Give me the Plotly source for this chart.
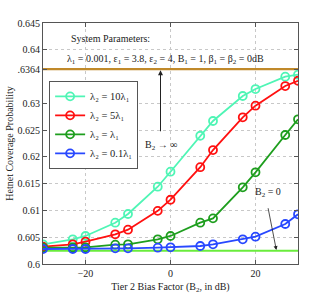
import plotly.graph_objects as go

# Tier 2 bias factor in dB (10*log10 of 0.001 ... 1000)
bias_db = [-30, -23.0, -20, -13.0, -10, -3.0, 0, 7.0, 10, 17.0, 20, 27.0, 30]

cov_10 = [0.60368, 0.60461, 0.60523, 0.60771, 0.60934, 0.61443, 0.61723,
          0.62395, 0.62670, 0.63137, 0.63267, 0.63497, 0.63535]
cov_5 = [0.60323, 0.60368, 0.60417, 0.60554, 0.60640, 0.60992, 0.61200,
         0.61808, 0.62128, 0.62739, 0.62956, 0.63323, 0.63422]
cov_1 = [0.60305, 0.60308, 0.60310, 0.60360, 0.60368, 0.60461, 0.60523,
         0.60771, 0.60852, 0.61432, 0.61712, 0.62409, 0.62702]
cov_01 = [0.60280, 0.60280, 0.60280, 0.60293, 0.60293, 0.60305, 0.60312,
          0.60336, 0.60368, 0.60461, 0.60510, 0.60747, 0.60928]

limit_inf = 0.6364
limit_zero = 0.60249

series_names = ["λ\u2082 = 10λ\u2081", "λ\u2082 = 5λ\u2081",
                "λ\u2082 = λ\u2081", "λ\u2082 = 0.1λ\u2081"]
series_vals = [cov_10, cov_5, cov_1, cov_01]
series_colors = ["#4ff5b5", "#ff1010", "#1e9e1e", "#2848ff"]

y_tickvals = [0.6, 0.605, 0.61, 0.615, 0.62, 0.625, 0.63, 0.6364, 0.64, 0.645]
y_ticktext = ["0.6", "0.605", "0.61", "0.615", "0.62", "0.625", "0.63", ".6364", "0.64", "0.645"]
x_tickvals = [-20, 0, 20]
x_ticktext = ["\u221220", "0", "20"]

FONT = "Liberation Serif"
FS = 10

fig = go.Figure()

# horizontal limit lines
fig.add_trace(go.Scatter(x=[-30, 30], y=[limit_inf, limit_inf], mode="lines",
                         line=dict(color="#c0892a", width=2.2), showlegend=False,
                         hoverinfo="skip"))
fig.add_trace(go.Scatter(x=[-30, 30], y=[limit_zero, limit_zero], mode="lines",
                         line=dict(color="#6aec3c", width=2), showlegend=False,
                         hoverinfo="skip"))

for name, vals, col in zip(series_names, series_vals, series_colors):
    fig.add_trace(go.Scatter(
        x=bias_db, y=vals, mode="lines+markers", name=name,
        line=dict(color=col, width=1.8),
        marker=dict(symbol="circle-open", size=8, color=col, line=dict(width=1.8, color=col)),
    ))

fig.update_layout(
    width=329, height=298,
    margin=dict(l=43, r=31, t=23, b=34),
    paper_bgcolor="white", plot_bgcolor="white",
    font=dict(family=FONT, size=FS, color="#222"),
    showlegend=True,
    legend=dict(x=0.024, y=0.76, xanchor="left", yanchor="top",
                bgcolor="white", bordercolor="#555", borderwidth=1,
                font=dict(family=FONT, size=10.5, color="#222"),
                itemwidth=30, tracegroupgap=0),
    xaxis=dict(range=[-30, 30], tickvals=x_tickvals, ticktext=x_ticktext, automargin=False,
               showgrid=True, gridcolor="#c8c8c8", griddash="dot", gridwidth=1,
               zeroline=False, showline=True, linecolor="#555", linewidth=1, mirror="allticks",
               ticks="inside", ticklen=4, tickcolor="#555",
               title=dict(text="Tier 2 Bias Factor (B<sub>2</sub>, in dB)", standoff=4,
                          font=dict(family=FONT, size=FS))),
    yaxis=dict(range=[0.6, 0.645], tickvals=y_tickvals, ticktext=y_ticktext, automargin=False,
               showgrid=True, gridcolor="#c8c8c8", griddash="dot", gridwidth=1,
               zeroline=False, showline=True, linecolor="#555", linewidth=1, mirror="allticks",
               ticks="inside", ticklen=4, tickcolor="#555",
               title=dict(text="Hetnet Coverage Probability", standoff=2,
                          font=dict(family=FONT, size=FS))),
)

fig.add_annotation(x=-23.9, y=0.6422, xref="x", yref="y", text="System Parameters:",
                   showarrow=False, xanchor="left", yanchor="middle",
                   font=dict(family=FONT, size=FS, color="#222"))
fig.add_annotation(x=-24.8, y=0.6381, xref="x", yref="y",
                   text="λ<sub>1</sub> = 0.001, ε<sub>1</sub> = 3.8, ε<sub>2</sub> = 4, B<sub>1</sub> = 1, β<sub>1</sub> = β<sub>2</sub> = 0dB",
                   showarrow=False, xanchor="left", yanchor="middle",
                   font=dict(family=FONT, size=FS, color="#222"))

# B2 -> infinity arrow
fig.add_annotation(x=-2.35, y=0.6362, ax=-2.35, ay=0.6245, xref="x", yref="y",
                   axref="x", ayref="y", text="", showarrow=True, arrowhead=2,
                   arrowsize=1, arrowwidth=1, arrowcolor="#222")
fig.add_annotation(x=-2.3, y=0.6222, xref="x", yref="y", text="B<sub>2</sub> \u2192 \u221e",
                   showarrow=False, font=dict(family=FONT, size=FS, color="#222"))

# B2 = 0 arrow
fig.add_annotation(x=24.9, y=0.60262, ax=22.9, ay=0.6107, xref="x", yref="y",
                   axref="x", ayref="y", text="", showarrow=True, arrowhead=2,
                   arrowsize=1, arrowwidth=0.8, arrowcolor="#222")
fig.add_annotation(x=22.9, y=0.6133, xref="x", yref="y", text="B<sub>2</sub> = 0",
                   showarrow=False, font=dict(family=FONT, size=FS, color="#222"))

fig.write_html("out.html", config={"displayModeBar": False},
               post_script="document.body.style.margin='0';document.body.style.padding='0';")
